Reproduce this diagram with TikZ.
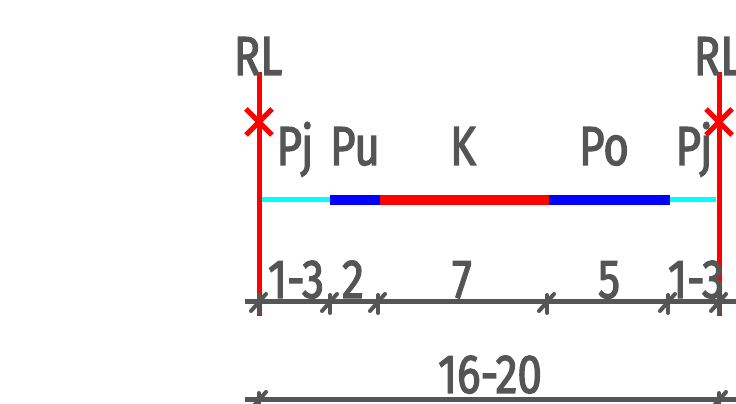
\documentclass[tikz,border=0pt]{standalone}
\usepackage{fontspec}
\setmainfont[FakeStretch=0.8,FakeBold=2.2]{Fira Sans}
\definecolor{dimgrey}{HTML}{555555}
\definecolor{pjcyan}{HTML}{00FFFF}
\definecolor{pblue}{HTML}{0000FF}
\definecolor{kred}{HTML}{FF0000}
\tikzset{
  lbl/.style={text=dimgrey, font=\fontsize{55}{55}\selectfont, inner sep=0pt, anchor=base},
  riser/.style={draw=kred, line width=5pt},
  dimline/.style={draw=dimgrey, line width=5pt},
  tickmark/.style={draw=dimgrey, line width=4pt, line cap=round},
  seg/.style={line width=#1},
}
\begin{document}
\begin{tikzpicture}[x=1pt,y=1pt]
\useasboundingbox (0,0) rectangle (736,404);
% coordinates
\coordinate (Ltop) at (259,332);
\coordinate (Lbot) at (259,88);
\coordinate (Rtop) at (719,332);
\coordinate (Rbot) at (719,88);
\coordinate (P0) at (262,204);
\coordinate (P1) at (330,204);
\coordinate (P2) at (380,204);
\coordinate (P3) at (549,204);
\coordinate (P4) at (670,204);
\coordinate (P5) at (716,204);
% pipe segments
\draw[draw=pjcyan, seg=5pt] (P0) -- (P1);
\draw[draw=pblue, seg=10pt] (P1) -- (P2);
\draw[draw=kred, seg=10pt] (P2) -- (P3);
\draw[draw=pblue, seg=10pt] (P3) -- (P4);
\draw[draw=pjcyan, seg=5pt] (P4) -- (P5);
% risers
\draw[riser] (Ltop) -- (Lbot);
\draw[riser] (Rtop) -- (Rbot);
% crosses
\coordinate (XL) at (259,282);
\coordinate (XR) at (719,282);
\foreach \c in {XL,XR}{
  \draw[kred, line width=5pt] ([shift={(-13,13)}]\c) -- ([shift={(13,-13)}]\c);
  \draw[kred, line width=5pt] ([shift={(-13,-13)}]\c) -- ([shift={(13,13)}]\c);
}
% labels
\node[lbl] (rl1) at (258,329) {RL};
\node[lbl] (rl2) at (718,329) {RL};
\node[lbl] (pj1) at (295,239) {Pj};
\node[lbl] (pu) at (355,239) {Pu};
\node[lbl] (k) at (463,239) {K};
\node[lbl] (po) at (604,239) {Po};
\node[lbl] (pj2) at (694,239) {Pj};
% dimension line 1
\coordinate (D0) at (245,102);
\coordinate (D9) at (736,102);
\draw[dimline] (D0) -- (D9);
\foreach \x [count=\i] in {259,330,378,547,668,719}{
  \coordinate (T\i) at (\x,102);
  \draw[tickmark] ([shift={(-8,-9)}]T\i) -- ([shift={(7,8)}]T\i);
  \draw[tickmark] ([shift={(0,-11)}]T\i) -- ([shift={(0,7)}]T\i);
}
\node[lbl] (d1) at (296,106) {1-3};
\node[lbl] (d2) at (353,106) {2};
\node[lbl] (d3) at (462,106) {7};
\node[lbl] (d4) at (609,106) {5};
\node[lbl] (d5) at (696,106) {1-3};
% dimension line 2
\coordinate (E0) at (245,4);
\coordinate (E9) at (736,4);
\draw[dimline] (E0) -- (E9);
\foreach \x [count=\i] in {259,719}{
  \coordinate (U\i) at (\x,4);
  \draw[tickmark] ([shift={(-8,-9)}]U\i) -- ([shift={(7,8)}]U\i);
  \draw[tickmark] ([shift={(0,-11)}]U\i) -- ([shift={(0,7)}]U\i);
}
\node[lbl] (tot) at (490,11) {16-20};
\end{tikzpicture}
\end{document}
